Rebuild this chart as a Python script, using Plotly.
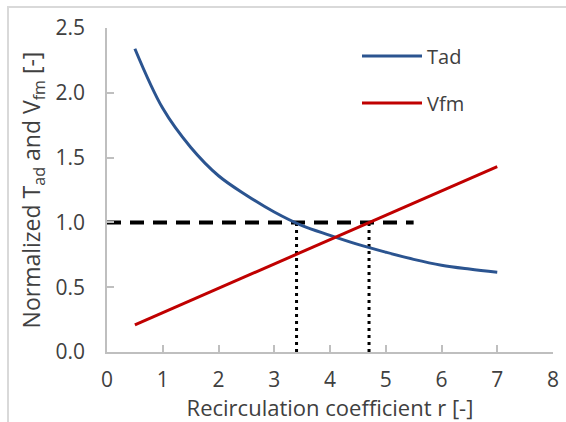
import plotly.graph_objects as go

# ---- data ----
r_tad = [0.5, 1.0, 1.5, 2.0, 2.5, 3.0, 3.5, 4.0, 4.5, 5.0, 5.5, 6.0, 6.5, 7.0]
tad = [2.34, 1.88, 1.58, 1.36, 1.21, 1.08, 0.975, 0.90, 0.83, 0.77, 0.715, 0.67, 0.64, 0.615]
r_vfm = [0.5, 7.0]
vfm = [0.21, 1.43]
ref_x = [0, 5.5]
ref_y = [1.0, 1.0]
cross_tad_x = [3.4, 3.4]
cross_vfm_x = [4.7, 4.7]
cross_y = [0.0, 1.0]
x_ticks = [0, 1, 2, 3, 4, 5, 6, 7, 8]
y_ticks = [0.0, 0.5, 1.0, 1.5, 2.0, 2.5]

FONT = "Open Sans"
TXT = "#404040"
AX = "#bfbfbf"

fig = go.Figure()
fig.add_trace(go.Scatter(x=ref_x, y=ref_y, mode="lines", showlegend=False,
                         line=dict(color="black", width=4, dash="14px,9px")))
fig.add_trace(go.Scatter(x=cross_tad_x, y=cross_y, mode="lines", showlegend=False,
                         line=dict(color="black", width=3, dash="3px,4px")))
fig.add_trace(go.Scatter(x=cross_vfm_x, y=cross_y, mode="lines", showlegend=False,
                         line=dict(color="black", width=3, dash="3px,4px")))
fig.add_trace(go.Scatter(x=r_tad, y=tad, mode="lines", name="Tad", legend="legend",
                         line=dict(color="#2B5490", width=3, shape="spline", smoothing=1.0)))
fig.add_trace(go.Scatter(x=r_vfm, y=vfm, mode="lines", name="Vfm", legend="legend2",
                         line=dict(color="#C00000", width=3)))

W, H = 566, 422
L, R, T, B = 107, 13, 28, 70
pw, ph = W - L - R, H - T - B

def px_x(p):
    return (p - L) / pw

def px_y(p):
    return (H - B - p) / ph

leg_common = dict(bgcolor="rgba(0,0,0,0)", font=dict(family=FONT, size=20, color=TXT),
                  itemwidth=60, xanchor="left", yanchor="middle")

fig.update_layout(
    width=W, height=H,
    margin=dict(l=L, r=R, t=T, b=B, autoexpand=False),
    paper_bgcolor="white", plot_bgcolor="white",
    font=dict(family=FONT, color=TXT),
    legend=dict(x=px_x(357), y=px_y(56), **leg_common),
    legend2=dict(x=px_x(357), y=px_y(103), **leg_common),
    xaxis=dict(range=[0, 8], tickvals=x_ticks, showgrid=False, zeroline=False,
               automargin=False,
               showline=True, linecolor=AX, linewidth=1.5,
               ticks="inside", ticklen=7, tickcolor=AX, tickwidth=1.5,
               ticklabelstandoff=8,
               tickfont=dict(family=FONT, size=21, color=TXT),
               title=dict(text="Recirculation coefficient r [-]",
                          font=dict(family=FONT, size=22, color=TXT), standoff=2)),
    yaxis=dict(range=[0, 2.5], tickvals=y_ticks, tickformat=".1f", showgrid=False,
               zeroline=False, showline=True, linecolor=AX, linewidth=1.5,
               automargin=False,
               ticks="inside", ticklen=7, tickcolor=AX, tickwidth=1.5,
               ticklabelstandoff=16,
               tickfont=dict(family=FONT, size=21, color=TXT),
               title=dict(text="Normalized T<sub>ad</sub> and V<sub>fm</sub> [-]",
                          font=dict(family=FONT, size=23, color=TXT), standoff=8)),
    shapes=[dict(type="rect", xref="paper", yref="paper",
                 x0=px_x(8), x1=px_x(W + 10), y0=px_y(H + 10), y1=px_y(7),
                 line=dict(color="#d9d9d9", width=2), fillcolor="rgba(0,0,0,0)",
                 layer="below")],
)

fig.write_html("out.html")
